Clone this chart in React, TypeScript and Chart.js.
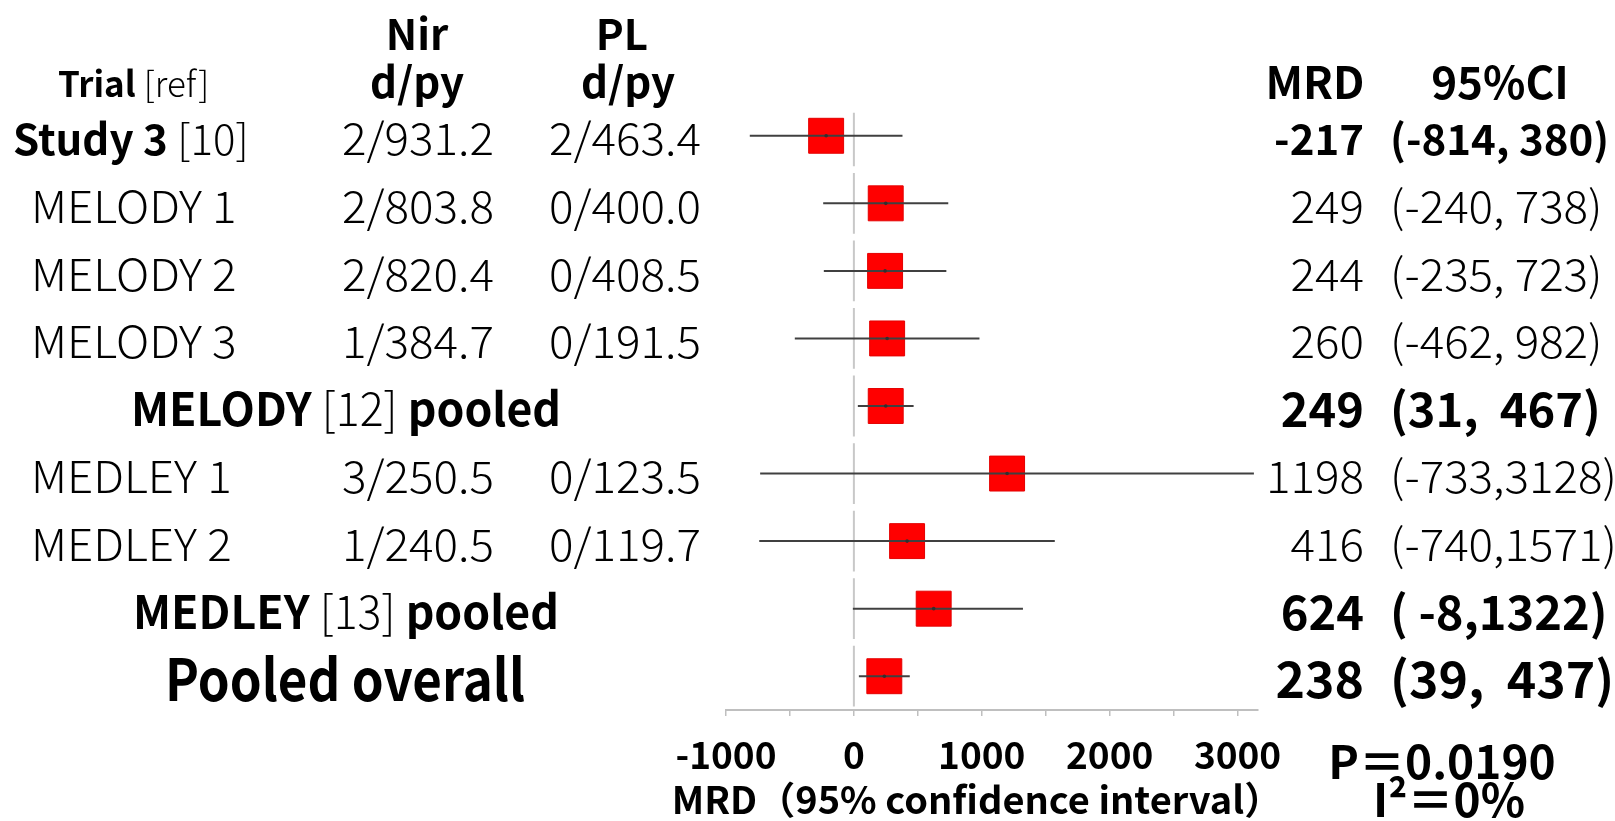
import React, { useEffect, useRef } from "react";
import { Chart, registerables } from "chart.js";

Chart.register(...registerables);

// ---------- data ----------
const trialNames = ["Study 3", "MELODY 1", "MELODY 2", "MELODY 3", "MELODY", "MEDLEY 1", "MEDLEY 2", "MEDLEY", "Pooled overall"];
const trialRefs = ["[10]", "", "", "", "[12]", "", "", "[13]", ""];
const rowKinds = ["study", "trial", "trial", "trial", "pooled", "trial", "trial", "pooled", "overall"];
const nirDpy = ["2/931.2", "2/803.8", "2/820.4", "1/384.7", "", "3/250.5", "1/240.5", "", ""];
const plDpy = ["2/463.4", "0/400.0", "0/408.5", "0/191.5", "", "0/123.5", "0/119.7", "", ""];
const mrdValues = [-217, 249, 244, 260, 249, 1198, 416, 624, 238];
const ciLower = [-814, -240, -235, -462, 31, -733, -740, -8, 39];
const ciUpper = [380, 738, 723, 982, 467, 3128, 1571, 1322, 437];
const ciTexts = ["(-814, 380)", "(-240, 738)", "(-235, 723)", "(-462, 982)", "(31,  467)", "(-733,3128)", "(-740,1571)", "( -8,1322)", "(39,  437)"];
const xTickValues = [-1000, -500, 0, 500, 1000, 1500, 2000, 2500, 3000];
const xTickLabels = ["-1000", "", "0", "", "1000", "", "2000", "", "3000"];
const headerTexts = { trial: "Trial", ref: "[ref]", nir: "Nir", pl: "PL", dpy: "d/py", mrd: "MRD", ci: "95%CI" };
const statTexts = ["P＝0.0190", "I²＝0%"];
const axisTitle = "MRD（95% confidence interval）";

// ---------- style ----------
const FONT = '"Noto Sans CJK JP", "Noto Sans", sans-serif';
const BOLD = 700;
const LIGHT = 300;
const LIGHT_SIZE = 44;
const LIGHT_SX = 1.04;

type Run = [string, number];

function drawRuns(
  ctx: CanvasRenderingContext2D,
  runs: Run[],
  x: number,
  y: number,
  size: number,
  align: "left" | "center" | "right",
  sx: number = 1
) {
  const widths = runs.map(([t, w]) => {
    ctx.font = `${w} ${size}px ${FONT}`;
    return ctx.measureText(t).width * sx;
  });
  const total = widths.reduce((a, b) => a + b, 0);
  let start = align === "left" ? x : align === "center" ? x - total / 2 : x - total;
  runs.forEach(([t, w], i) => {
    ctx.save();
    ctx.font = `${w} ${size}px ${FONT}`;
    ctx.fillStyle = "#000";
    ctx.textAlign = "left";
    ctx.textBaseline = "middle";
    ctx.translate(start, y);
    ctx.scale(sx, 1);
    ctx.fillText(t, 0, 0);
    ctx.restore();
    start += widths[i];
  });
}

const textPlugin = {
  id: "forestText",
  afterDraw(chart: any) {
    const ctx: CanvasRenderingContext2D = chart.ctx;
    const ys = chart.scales.y;
    ctx.save();
    // header
    drawRuns(ctx, [[headerTexts.nir, BOLD]], 417, 34, 42, "center");
    drawRuns(ctx, [[headerTexts.dpy, BOLD]], 417, 82, 42, "center");
    drawRuns(ctx, [[headerTexts.pl, BOLD]], 622, 34, 42, "center");
    drawRuns(ctx, [[headerTexts.dpy, BOLD]], 628, 82, 42, "center");
    drawRuns(ctx, [[headerTexts.trial + " ", BOLD], [headerTexts.ref, LIGHT]], 58, 84, 35, "left");
    drawRuns(ctx, [[headerTexts.mrd, BOLD]], 1315, 82, 44, "center");
    drawRuns(ctx, [[headerTexts.ci, BOLD]], 1500, 82, 44, "center");

    trialNames.forEach((name, i) => {
      const y = ys.getPixelForValue(i) + 3;
      const kind = rowKinds[i];
      if (kind === "study") {
        drawRuns(ctx, [[name + " ", BOLD], [trialRefs[i], LIGHT]], 13, y, 42, "left");
      } else if (kind === "trial") {
        drawRuns(ctx, [[name, LIGHT]], 31, y, LIGHT_SIZE, "left", LIGHT_SX);
      } else if (kind === "pooled") {
        drawRuns(ctx, [[name + " ", BOLD], [trialRefs[i], LIGHT], [" pooled", BOLD]], 346, y, 46, "center", 0.97);
      } else {
        drawRuns(ctx, [[name, BOLD]], 345, y, 58, "center", 0.88);
      }
      if (nirDpy[i]) drawRuns(ctx, [[nirDpy[i], LIGHT]], 418, y, LIGHT_SIZE, "center", LIGHT_SX);
      if (plDpy[i]) drawRuns(ctx, [[plDpy[i], LIGHT]], 625, y, LIGHT_SIZE, "center", LIGHT_SX);
      const isLight = kind === "trial";
      const w = isLight ? LIGHT : BOLD;
      const size = isLight ? LIGHT_SIZE : kind === "study" ? 42 : kind === "pooled" ? 47 : 50;
      const sx = isLight ? LIGHT_SX : 1;
      drawRuns(ctx, [[String(mrdValues[i]), w]], 1364, y, size, "right", sx);
      drawRuns(ctx, [[ciTexts[i], w]], 1390, y, size, "left", sx);
    });

    drawRuns(ctx, [[statTexts[0], BOLD]], 1442, 762, 46, "center");
    drawRuns(ctx, [[statTexts[1], BOLD]], 1449, 800, 46, "center");
    drawRuns(ctx, [[axisTitle, BOLD]], 977, 800, 38, "center");
    ctx.restore();
  },
};

export default function App() {
  const canvasRef = useRef<HTMLCanvasElement | null>(null);

  useEffect(() => {
    const canvas = canvasRef.current;
    if (!canvas) return;

    const ciDatasets = ciLower.map((lo, i) => ({
      type: "line" as const,
      label: "ci" + i,
      data: [
        { x: lo, y: i },
        { x: ciUpper[i], y: i },
      ],
      borderColor: "#404040",
      borderWidth: 2,
      pointRadius: 0,
      showLine: true,
      order: 1,
    }));
    const zeroDatasets = trialNames.map((_, i) => ({
      type: "line" as const,
      label: "zero" + i,
      data: [
        { x: 0, y: i === 0 ? i - 0.34 : i - 0.45 },
        { x: 0, y: i + 0.45 },
      ],
      borderColor: "#c8c8c8",
      borderWidth: 2,
      pointRadius: 0,
      showLine: true,
      order: 5,
    }));

    const chart = new Chart(canvas, {
      type: "scatter",
      data: {
        datasets: [
          {
            type: "scatter",
            label: "center",
            data: mrdValues.map((v, i) => ({ x: v, y: i })),
            pointRadius: 1.8,
            backgroundColor: "#303030",
            borderWidth: 0,
            order: 0,
          } as any,
          ...ciDatasets,
          {
            type: "scatter",
            label: "MRD",
            data: mrdValues.map((v, i) => ({ x: v, y: i })),
            pointStyle: "rect",
            pointRadius: 24.7,
            backgroundColor: "#ff0000",
            borderColor: "#e40000",
            borderWidth: 1,
            order: 3,
          },
          ...zeroDatasets,
        ] as any,
      },
      options: {
        animation: false,
        responsive: false,
        maintainAspectRatio: false,
        layout: { padding: { left: 726, right: 357, top: 102, bottom: 0 } },
        plugins: {
          legend: { display: false },
          tooltip: { enabled: false },
        },
        scales: {
          x: {
            type: "linear",
            min: -1000,
            max: 3160,
            afterBuildTicks: (s: any) => {
              s.ticks = xTickValues.map((v) => ({ value: v }));
            },
            afterFit: (s: any) => {
              s.height = 111;
            },
            ticks: {
              autoSkip: false,
              maxRotation: 0,
              padding: 17,
              color: "#000",
              font: { family: FONT, size: 37, weight: "bold" },
              callback: (v: any) => {
                const idx = xTickValues.indexOf(Number(v));
                return idx >= 0 ? xTickLabels[idx] : "";
              },
            },
            grid: {
              drawOnChartArea: false,
              drawTicks: true,
              tickLength: 6,
              color: "#bfbfbf",
              lineWidth: 1.5,
            },
            border: { display: true, color: "#bfbfbf", width: 2 },
          },
          y: {
            type: "linear",
            min: -0.5,
            max: 8.5,
            reverse: true,
            display: false,
          },
        },
      } as any,
      plugins: [textPlugin],
    });

    return () => chart.destroy();
  }, []);

  return (
    <div style={{ position: "absolute", left: 0, top: 0, width: 1615, height: 821, background: "#fff" }}>
      <canvas ref={canvasRef} width={1615} height={821} style={{ display: "block" }} />
    </div>
  );
}
